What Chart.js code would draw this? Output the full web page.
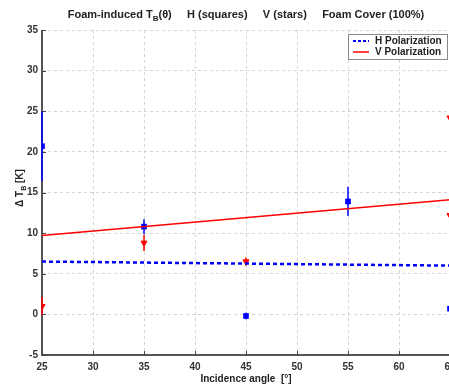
<!DOCTYPE html>
<html>
<head>
<meta charset="utf-8">
<script src="https://cdn.jsdelivr.net/npm/chart.js@4/dist/chart.umd.min.js"></script>
<style>
html,body{margin:0;padding:0;background:#fff;overflow:hidden;}
#wrap{width:449px;height:385px;overflow:hidden;}
</style>
</head>
<body>
<div id="wrap"><canvas id="grafico" width="480" height="385"></canvas></div>
<script>
// ângulos de incidência e valores medidos (K)
const hAngulos=[25,35,45,55,65];
const hValores=[20.7,10.8,-0.2,13.9,0.7];
const hErros=[4.3,0.9,0.4,1.8,0.4];

const vAngulos=[25,35,45,65,65];
const vValores=[1.0,8.8,6.5,24.2,12.2];
const vErros=[1.1,1.0,0.5,0.4,0.4];

// ajustes lineares
const ajusteX=[25,65];
const hAjuste=[6.5,6.0];
const vAjuste=[9.7,14.1];

const xTicks=[25,30,35,40,45,50,55,60,65];
const yTicks=[-5,0,5,10,15,20,25,30,35];

const fonte="Liberation Sans, Arial, sans-serif";

function pontos(xs,ys){
return xs.map((x,i)=>({x:x,y:ys[i]}));
}

// eixos e barras de erro (por baixo dos marcadores)
const barrasErro={
id:"barrasErro",
beforeDatasetsDraw(chart){
const ctx=chart.ctx;
const a=chart.chartArea;
const sx=chart.scales.x, sy=chart.scales.y;
ctx.save();

ctx.strokeStyle="#555";
ctx.lineWidth=2;
ctx.beginPath();
ctx.moveTo(a.left,a.top);ctx.lineTo(a.left,a.bottom);ctx.lineTo(a.right,a.bottom);
ctx.stroke();

ctx.strokeStyle="#444";
ctx.lineWidth=1;
yTicks.forEach(v=>{
const py=Math.round(sy.getPixelForValue(v))+0.5;
ctx.beginPath();ctx.moveTo(a.left,py);ctx.lineTo(a.left+4,py);ctx.stroke();
});
xTicks.forEach(v=>{
const px=Math.round(sx.getPixelForValue(v))+0.5;
ctx.beginPath();ctx.moveTo(px,a.bottom);ctx.lineTo(px,a.bottom-4);ctx.stroke();
});

const grupos=[
{xs:hAngulos,ys:hValores,es:hErros,cor:"#0000ff"},
{xs:vAngulos,ys:vValores,es:vErros,cor:"#ff0000"}
];
ctx.lineWidth=1.5;
grupos.forEach(g=>{
ctx.strokeStyle=g.cor;
g.xs.forEach((x,i)=>{
const px=sx.getPixelForValue(x);
ctx.beginPath();
ctx.moveTo(px,sy.getPixelForValue(g.ys[i]-g.es[i]));
ctx.lineTo(px,sy.getPixelForValue(g.ys[i]+g.es[i]));
ctx.stroke();
});
});
ctx.restore();
}
};

// títulos e legenda
const textos={
id:"textos",
afterDraw(chart){
const ctx=chart.ctx;
ctx.save();
ctx.fillStyle="#222";
ctx.textBaseline="alphabetic";

// título com subscrito
const partes=[
["Foam-induced T",11,0],["B",8,3],["(θ)     H (squares)     V (stars)     Foam Cover (100%)",11,0]
];
let total=0;
partes.forEach(p=>{ctx.font="bold "+p[1]+"px "+fonte;total+=ctx.measureText(p[0]).width;});
let x=246-total/2;
partes.forEach(p=>{
ctx.font="bold "+p[1]+"px "+fonte;
ctx.textAlign="left";
ctx.fillText(p[0],x,18+p[2]);
x+=ctx.measureText(p[0]).width;
});

// título eixo x
ctx.font="bold 10px "+fonte;
ctx.textAlign="center";
ctx.fillText("Incidence angle  [°]",246,382);

// título eixo y
ctx.translate(23,188);
ctx.rotate(-Math.PI/2);
const py=[["Δ T",10,0],["B",7,3],[" [K]",10,0]];
let ty=0;
py.forEach(p=>{ctx.font="bold "+p[1]+"px "+fonte;ty+=ctx.measureText(p[0]).width;});
let yx=-ty/2;
ctx.textAlign="left";
py.forEach(p=>{
ctx.font="bold "+p[1]+"px "+fonte;
ctx.fillText(p[0],yx,p[2]);
yx+=ctx.measureText(p[0]).width;
});
ctx.setTransform(1,0,0,1,0,0);

// legenda
const lx=348, ly=34, lw=99, lh=25;
ctx.fillStyle="#fff";
ctx.fillRect(lx,ly,lw,lh);
ctx.strokeStyle="#888";
ctx.lineWidth=1;
ctx.strokeRect(lx+0.5,ly+0.5,lw,lh);
ctx.font="bold 10px "+fonte;
ctx.fillStyle="#222";
ctx.textBaseline="middle";
ctx.textAlign="left";
ctx.strokeStyle="#0000ff";
ctx.lineWidth=2;
ctx.setLineDash([3,2]);
ctx.beginPath();ctx.moveTo(353,41);ctx.lineTo(369,41);ctx.stroke();
ctx.setLineDash([]);
ctx.strokeStyle="#ff0000";
ctx.lineWidth=1.5;
ctx.beginPath();ctx.moveTo(353,52);ctx.lineTo(369,52);ctx.stroke();
ctx.fillText("H Polarization",375,41);
ctx.fillText("V Polarization",375,52);

ctx.restore();
}
};

new Chart(document.getElementById("grafico"),{
type:"scatter",
data:{
datasets:[
{label:"H Polarization",type:"line",data:pontos(ajusteX,hAjuste),borderColor:"#0000ff",borderWidth:2.5,borderDash:[4,3],pointRadius:0,fill:false},
{label:"V Polarization",type:"line",data:pontos(ajusteX,vAjuste),borderColor:"#ff0000",borderWidth:1.5,pointRadius:0,fill:false},
{label:"H",data:pontos(hAngulos,hValores),pointStyle:"rect",pointRadius:4,backgroundColor:"#0000ff",borderColor:"#0000ff",borderWidth:0},
{label:"V",data:pontos(vAngulos,vValores),pointStyle:"triangle",rotation:180,pointRadius:3.5,backgroundColor:"#ff0000",borderColor:"#ff0000",borderWidth:1}
]
},
options:{
responsive:false,
devicePixelRatio:1,
animation:false,
layout:{padding:{left:0,top:30,right:30,bottom:0}},
plugins:{legend:{display:false},title:{display:false},tooltip:{enabled:false}},
scales:{
x:{
type:"linear",min:25,max:65,
afterFit(s){s.height=30;},
afterBuildTicks(s){s.ticks=xTicks.map(v=>({value:v}));},
grid:{color:"#d4d4d4",drawTicks:false,tickLength:0},
border:{display:false,dash:[3,3]},
ticks:{color:"#333",font:{family:fonte,size:10,weight:"bold"},padding:6,maxRotation:0}
},
y:{
min:-5,max:35,
afterFit(s){s.width=42;},
afterBuildTicks(s){s.ticks=yTicks.map(v=>({value:v}));},
grid:{color:"#d4d4d4",drawTicks:false,tickLength:0},
border:{display:false,dash:[3,3]},
ticks:{color:"#333",font:{family:fonte,size:10,weight:"bold"},padding:4}
}
}
},
plugins:[barrasErro,textos]
});
</script>
</body>
</html>
